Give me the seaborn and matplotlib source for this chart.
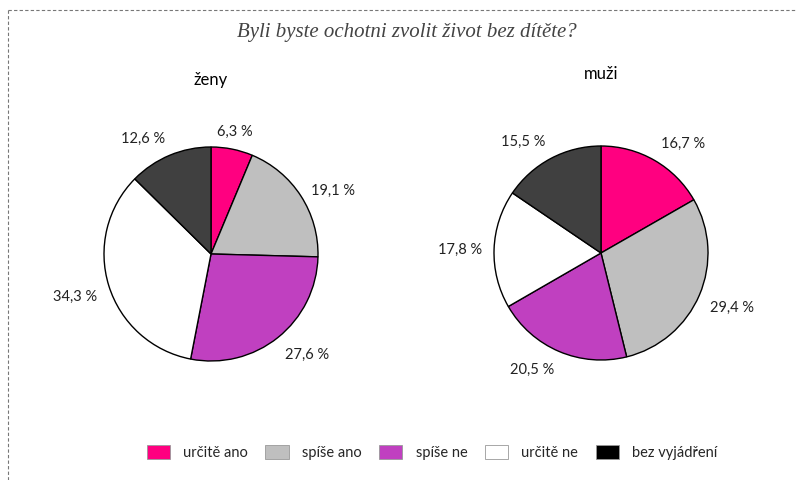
import numpy as np
import matplotlib
matplotlib.use("Agg")
import matplotlib.pyplot as plt
import seaborn as sns
from matplotlib.patches import Patch
from matplotlib.lines import Line2D

categories = ['určitě ano', 'spíše ano', 'spíše ne', 'určitě ne', 'bez vyjádření']
zeny = [6.3, 19.1, 27.6, 34.3, 12.6]
muzi = [16.7, 29.4, 20.5, 17.8, 15.5]
pie_colors = ['#FF0080', '#BFBFBF', '#C040C0', '#FFFFFF', '#404040']
legend_colors = ['#FF0080', '#BFBFBF', '#C040C0', '#FFFFFF', '#000000']

sns.set_style("white")
plt.rcParams['font.family'] = ['Lato', 'DejaVu Sans']

W, H = 797, 481
fig = plt.figure(figsize=(W / 100, H / 100), dpi=100)

def add_pie(cx, cy, r, values, title, ty):
    half = r * 1.25
    ax = fig.add_axes([(cx - half) / W, 1 - (cy + half) / H, 2 * half / W, 2 * half / H])
    labels = [f"{v:.1f} %".replace('.', ',') for v in values]
    wedges, texts = ax.pie(values, colors=pie_colors, startangle=90, counterclock=False,
                           labels=labels, labeldistance=1.11,
                           wedgeprops=dict(edgecolor='black', linewidth=1.0),
                           textprops=dict(fontsize=10.5, color='#222222'))
    # excel-like label anchoring: box corner touches the label point
    for w, t in zip(wedges, texts):
        ang = np.deg2rad((w.theta1 + w.theta2) / 2)
        c, s = np.cos(ang), np.sin(ang)
        t.set_ha('left' if c > 0.2 else 'right' if c < -0.2 else 'center')
        t.set_va('top' if s < -0.2 else 'bottom' if s > 0.6 else 'center')
    fig.text(cx / W, 1 - ty / H, title, ha='center', va='center', fontsize=12, color='black')
    return ax

add_pie(211, 255, 107, zeny, 'ženy', 80)
add_pie(601, 254, 107, muzi, 'muži', 74)

fig.text(407 / W, 1 - 33 / H, 'Byli byste ochotni zvolit život bez dítěte?',
         ha='center', va='center', fontsize=15, style='italic', color='#444444',
         family=['Liberation Serif', 'DejaVu Serif'])

# dashed frame (top and left)
fig.add_artist(Line2D([8 / W, 1.0], [1 - 11 / H, 1 - 11 / H], transform=fig.transFigure,
                      color='#777777', linestyle=(0, (3, 2)), linewidth=0.8))
fig.add_artist(Line2D([8 / W, 8 / W], [1 - 11 / H, 0.0], transform=fig.transFigure,
                      color='#777777', linestyle=(0, (3, 2)), linewidth=0.8))

handles = [Patch(facecolor=c, edgecolor='#999999', linewidth=0.6) for c in legend_colors]
fig.legend(handles, categories, loc='center', bbox_to_anchor=(432 / W, 1 - 453 / H),
           ncol=5, frameon=False, fontsize=10.5, handlelength=1.6, handleheight=1.1,
           columnspacing=1.2, handletextpad=0.9)

fig.savefig('out.png', dpi=100)
